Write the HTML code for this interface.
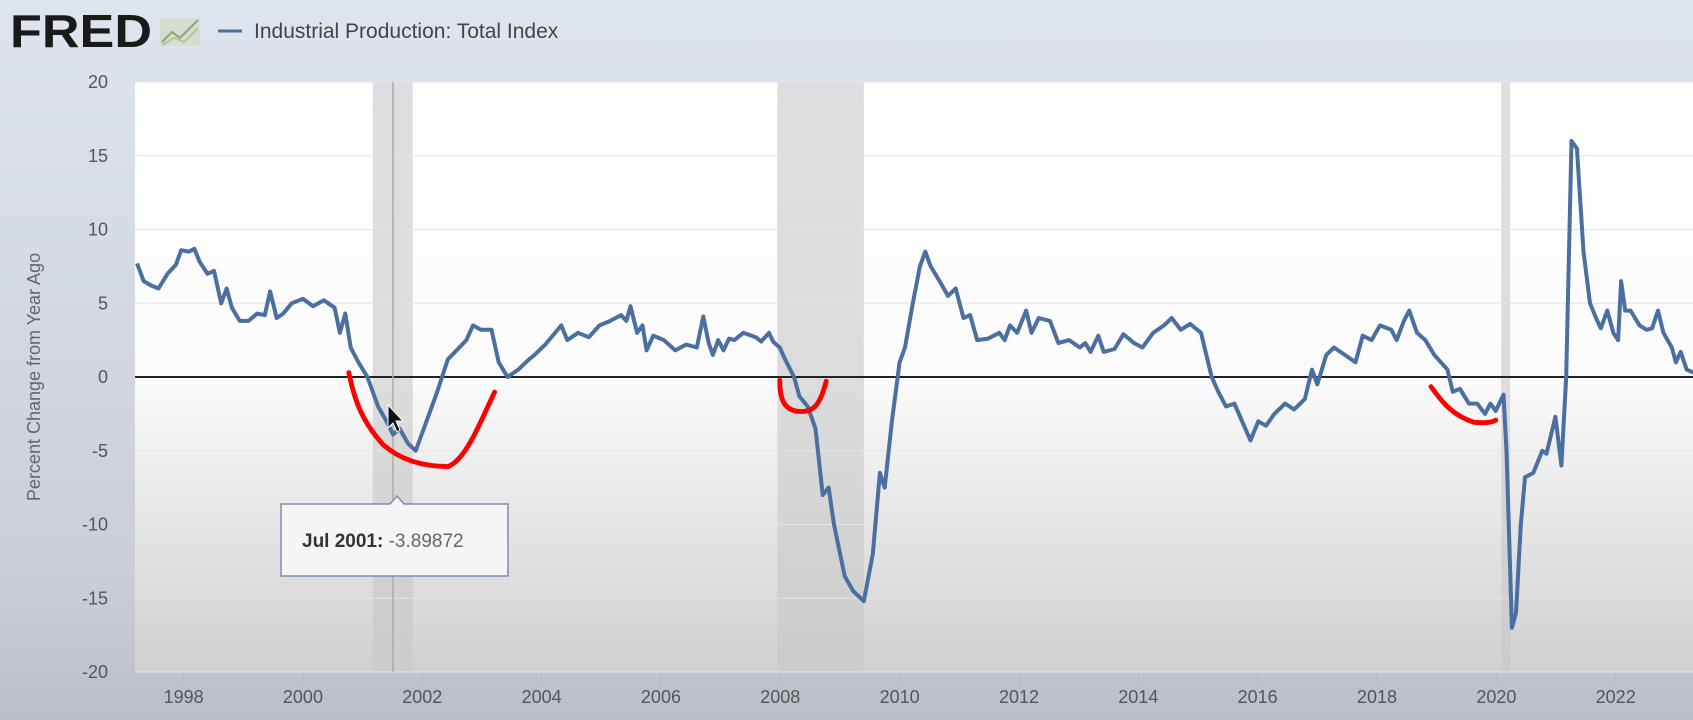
<!DOCTYPE html>
<html><head><meta charset="utf-8"><style>
html,body{margin:0;padding:0;width:1693px;height:720px;overflow:hidden;background:linear-gradient(#dfe5ef,#c9ced8 80%,#b9bec8);font-family:"Liberation Sans",sans-serif}
svg{display:block}
</style></head><body>
<svg width="1693" height="720">
<defs><linearGradient id="pg" x1="0" y1="0" x2="0" y2="1"><stop offset="0" stop-color="#ffffff"/><stop offset="0.5" stop-color="#fbfbfb"/><stop offset="1" stop-color="#d0d0d0"/></linearGradient></defs>
<g>
<text x="10" y="47" font-size="46" font-weight="bold" fill="#1a1a1a" textLength="142" lengthAdjust="spacingAndGlyphs">FRED</text>
<g><rect x="160" y="18" width="40" height="28" fill="#d6dccf"/><polyline points="162,42 172,32 180,38 198,20" fill="none" stroke="#8aa870" stroke-width="2"/><polyline points="162,45 174,38 184,42 198,28" fill="none" stroke="#b5c4a8" stroke-width="2"/></g>
<line x1="218" y1="31" x2="242" y2="31" stroke="#4a6fa0" stroke-width="3"/>
<text x="254" y="38" font-size="21" fill="#444">Industrial Production: Total Index</text>
</g>
<rect x="135" y="82" width="1558" height="590" fill="url(#pg)"/>
<g id="rec"></g><g id="grid"></g><g id="axes"></g>
<line x1="135" y1="377" x2="1693" y2="377" stroke="#222" stroke-width="2"/>
<line x1="393" y1="82" x2="393" y2="672" stroke="#aaa" stroke-width="1.5"/>
<g id="series"></g>
<text transform="translate(40,377) rotate(-90)" text-anchor="middle" font-size="18" fill="#666">Percent Change from Year Ago</text>
<g transform="scale(1.08)" fill="none" stroke="#f00" stroke-width="4.5" stroke-linecap="round">
<path d="M323,345 C328,370 335,390 355,412 C370,425 390,432 415,432 C432,425 445,390 458,363"/>
<path d="M722,352 C722,368 725,380 740,381 C755,382 760,372 765,353"/>
<path d="M1325,358 C1335,372 1345,385 1365,391 C1375,392 1382,391 1385,389"/>
</g>
<g>
<path d="M281,504 L390,504 L397,496 L404,504 L508,504 L508,576 L281,576 Z" fill="#f5f5f5" stroke="#7a8fb0" stroke-width="1.5"/>
<text x="302" y="547" font-size="19" fill="#333"><tspan font-weight="bold">Jul 2001:</tspan><tspan fill="#666"> -3.89872</tspan></text>
</g>
<path d="M388,405 L388,428 L393,423 L397,432 L400,430 L396,421 L403,421 Z" fill="#111" stroke="#fff" stroke-width="1"/>
</svg>
<script>
const dates=[1997.22,1997.33,1997.46,1997.58,1997.73,1997.87,1997.96,1998.09,1998.18,1998.27,1998.40,1998.51,1998.63,1998.72,1998.81,1998.94,1999.09,1999.23,1999.36,1999.45,1999.56,1999.67,1999.81,2000.0,2000.17,2000.35,2000.53,2000.62,2000.71,2000.80,2000.93,2001.08,2001.26,2001.40,2001.51,2001.62,2001.76,2001.89,2001.98,2002.07,2002.25,2002.43,2002.62,2002.74,2002.85,2002.98,2003.16,2003.28,2003.43,2003.61,2003.79,2003.88,2004.06,2004.33,2004.43,2004.61,2004.79,2004.97,2005.15,2005.33,2005.42,2005.49,2005.60,2005.69,2005.76,2005.87,2006.05,2006.24,2006.42,2006.60,2006.71,2006.80,2006.87,2006.96,2007.05,2007.14,2007.23,2007.38,2007.59,2007.68,2007.81,2007.88,2007.99,2008.08,2008.23,2008.32,2008.46,2008.59,2008.71,2008.81,2008.90,2009.08,2009.22,2009.40,2009.55,2009.67,2009.75,2009.87,2010.00,2010.09,2010.22,2010.34,2010.43,2010.52,2010.67,2010.81,2010.94,2011.07,2011.18,2011.30,2011.48,2011.67,2011.76,2011.85,2011.97,2012.12,2012.21,2012.33,2012.52,2012.66,2012.84,2013.02,2013.11,2013.20,2013.33,2013.42,2013.60,2013.75,2013.93,2014.07,2014.25,2014.43,2014.56,2014.71,2014.87,2015.05,2015.23,2015.34,2015.47,2015.61,2015.74,2015.88,2016.01,2016.14,2016.28,2016.46,2016.61,2016.79,2016.91,2017.00,2017.15,2017.28,2017.46,2017.64,2017.76,2017.91,2018.05,2018.24,2018.33,2018.45,2018.54,2018.67,2018.81,2018.96,2019.18,2019.27,2019.39,2019.54,2019.68,2019.81,2019.90,2019.99,2020.12,2020.17,2020.26,2020.33,2020.41,2020.48,2020.62,2020.77,2020.84,2020.99,2021.09,2021.17,2021.26,2021.35,2021.46,2021.57,2021.67,2021.75,2021.86,2021.96,2022.04,2022.09,2022.16,2022.25,2022.40,2022.52,2022.61,2022.71,2022.80,2022.94,2023.01,2023.09,2023.19,2023.30];
const values=[7.7,6.5,6.2,6.0,7.0,7.6,8.6,8.5,8.7,7.8,7.0,7.2,5.0,6.0,4.7,3.8,3.8,4.3,4.2,5.8,4.0,4.3,5.0,5.3,4.8,5.2,4.7,3.0,4.3,2.0,1.0,0,-2,-3,-3.9,-3.5,-4.5,-5,-4,-3,-1,1.2,2,2.5,3.5,3.2,3.2,1,0,0.5,1.2,1.5,2.2,3.5,2.5,3.0,2.7,3.5,3.8,4.2,3.8,4.8,3.0,3.5,1.8,2.8,2.5,1.8,2.2,2.0,4.1,2.3,1.5,2.5,1.8,2.6,2.5,3.0,2.7,2.4,3.0,2.4,2.0,1.2,0,-1.3,-2,-3.5,-8,-7.5,-10,-13.5,-14.5,-15.2,-12,-6.5,-7.5,-3,1,2,5,7.5,8.5,7.5,6.5,5.5,6,4,4.2,2.5,2.6,3,2.5,3.5,3.0,4.5,3,4,3.8,2.3,2.5,2.0,2.3,1.7,2.8,1.7,1.9,2.9,2.3,2.0,3.0,3.5,4.0,3.2,3.6,3.0,0,-1,-2,-1.8,-3,-4.3,-3,-3.3,-2.5,-1.8,-2.2,-1.5,0.5,-0.5,1.5,2,1.5,1.0,2.8,2.5,3.5,3.2,2.5,3.8,4.5,3.0,2.5,1.5,0.5,-1,-0.8,-1.8,-1.8,-2.5,-1.8,-2.3,-1.2,-5,-17,-16,-10,-6.8,-6.5,-5,-5.2,-2.7,-6,0,16,15.5,8.5,5,4,3.3,4.5,3,2.5,6.5,4.5,4.5,3.5,3.2,3.3,4.5,3,2,1,1.7,0.5,0.3];
const recStart=[2001.17,2007.95,2020.08];
const recEnd=[2001.84,2009.4,2020.23];
const yTicks=[20,15,10,5,0,-5,-10,-15,-20];
const xTicks=[1998,2000,2002,2004,2006,2008,2010,2012,2014,2016,2018,2020,2022];
const NS='http://www.w3.org/2000/svg';
const X=y=>183.6+(y-1998)*59.67;
const Y=v=>377-v*14.75;
function mk(p,t,a){const e=document.createElementNS(NS,t);for(const k in a)e.setAttribute(k,a[k]);p.appendChild(e);return e;}
const rec=document.getElementById('rec'),grid=document.getElementById('grid'),axes=document.getElementById('axes'),series=document.getElementById('series');
recStart.forEach((s,i)=>{const r=mk(rec,'rect',{x:X(s),y:82,width:X(recEnd[i])-X(s),height:590,fill:'#c8c8c8','fill-opacity':0.6});

});
yTicks.forEach(v=>{const l=mk(grid,'line',{x1:135,x2:1693,y1:Y(v),y2:Y(v),stroke:'#e4e4e4','stroke-width':1});


const t=mk(axes,'text',{x:108,y:Y(v)+6,'text-anchor':'end','font-size':18,fill:'#555'});


t.textContent=v;});
xTicks.forEach(y=>{const l=mk(axes,'line',{x1:X(y),x2:X(y),y1:672,y2:685,stroke:'#bbb','stroke-width':1});


const t=mk(axes,'text',{x:X(y),y:703,'text-anchor':'middle','font-size':18,fill:'#555'});


t.textContent=y;});
const d=dates.map((t,i)=>(i?'L':'M')+X(t).toFixed(1)+','+Y(values[i]).toFixed(1)).join(' ');
const p=mk(series,'path',{d:d,fill:'none',stroke:'#4a6fa0','stroke-width':4,'stroke-linejoin':'round'});


</script>
</body></html>
